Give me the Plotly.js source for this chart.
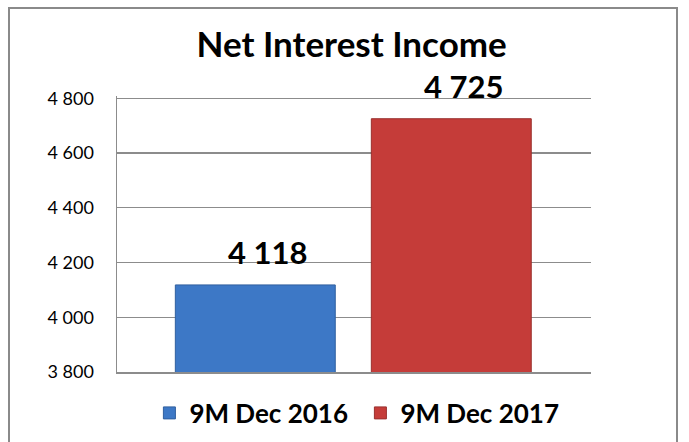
<!DOCTYPE html>
<html>
<head>
<meta charset="utf-8">
<script src="https://cdn.plot.ly/plotly-3.0.1.min.js"></script>
<style>
  html, body { margin: 0; padding: 0; background: #ffffff; }
  #wrap { position: relative; width: 689px; height: 442px; overflow: hidden; }
  #chart { width: 689px; height: 442px; }
  #frame { position: absolute; left: 8px; top: 7px; width: 670px; height: 460px;
           border: 2px solid #8a8a8a; box-sizing: border-box; pointer-events: none; }
</style>
</head>
<body>
<div id="wrap">
  <div id="chart"></div>
  <div id="frame"></div>
</div>
<script>
const chartTitle = "Net Interest Income";
const categories = ["9M Dec 2016", "9M Dec 2017"];
const values = [4118, 4725];
const colors = ["#3d78c6", "#c53c39"];
const lineColors = ["#2f5f9e", "#99302e"];
const yTicks = [3800, 4000, 4200, 4400, 4600, 4800];

const traces = categories.map((c, i) => ({
  type: "bar",
  name: c,
  x: [c],
  y: [values[i]],
  width: 0.816,
  marker: { color: colors[i], line: { color: lineColors[i], width: 1 } },
  hoverinfo: "none"
}));

const annotations = categories.map((c, i) => ({
  x: c, y: values[i], xref: "x", yref: "y",
  text: values[i].toLocaleString("en-US").replace(/,/g, " "),
  showarrow: false, yanchor: "bottom", xanchor: "center",
  xshift: 12, yshift: 12,
  font: { family: "Lato, 'Noto Sans', sans-serif", size: 31, color: "#000000", weight: "bold" }
}));

const layout = {
  width: 689, height: 442,
  margin: { l: 117, r: 98, t: 96, b: 70, pad: 0, autoexpand: false },
  paper_bgcolor: "#ffffff", plot_bgcolor: "#ffffff",
  separators: ". ",
  barmode: "overlay",
  title: {
    text: "<b>" + chartTitle + "</b>",
    x: 0.495, xref: "paper", xanchor: "center",
    y: 1 - 45 / 442, yref: "container", yanchor: "middle",
    font: { family: "Lato, 'Noto Sans', sans-serif", size: 35, color: "#000000" }
  },
  xaxis: {
    type: "category",
    range: [-0.7056, 1.7128],
    showticklabels: false, ticks: "",
    showgrid: false, zeroline: false,
    showline: true, linecolor: "#8c8c8c", linewidth: 1.5,
    fixedrange: true
  },
  yaxis: {
    range: [3800, 4808],
    tickvals: yTicks,
    tickformat: ",d",
    showgrid: true, gridcolor: "#8c8c8c", gridwidth: 1.3,
    showline: true, linecolor: "#8c8c8c", linewidth: 1.5,
    zeroline: false, ticks: "",
    ticklabelstandoff: 18,
    tickfont: { family: "Lato, 'Noto Sans', sans-serif", size: 18, color: "#000000" },
    fixedrange: true
  },
  showlegend: true,
  legend: {
    orientation: "h",
    x: 0.5135, xanchor: "center", xref: "paper",
    y: 1 - 413 / 442, yanchor: "middle", yref: "container",
    font: { family: "Lato, 'Noto Sans', sans-serif", size: 26, color: "#000000", weight: "bold" },
    itemwidth: 30,
    entrywidth: 166,
    bgcolor: "rgba(0,0,0,0)"
  },
  annotations: annotations
};

Plotly.newPlot("chart", traces, layout, { displayModeBar: false, staticPlot: true });
</script>
</body>
</html>
